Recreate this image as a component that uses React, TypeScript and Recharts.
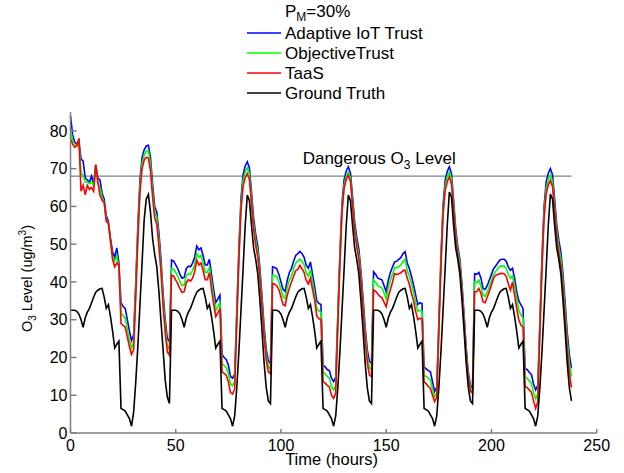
import React from 'react';
import { LineChart, Line, XAxis, YAxis, ReferenceLine, ReferenceDot, Legend } from 'recharts';

const truth = [
  32.5, 32.5, 32.5, 32.2, 31.5, 30, 28, 30.5, 32, 33, 34.5, 36, 37.3, 37.8, 38.2, 38.3, 36, 33, 34, 30.8, 27, 22.5, 23.5, 24.3,
  6.5, 6.2, 5.8, 4.8, 3.8, 1.8, 5.5, 13.5, 23, 34, 45, 56.5, 62, 63.2, 58.5, 51.5, 47.3, 44, 37.5, 29.5, 22, 14, 9.5, 7.8,
  32.5, 32.5, 32.5, 32.2, 31.5, 30, 28, 30.5, 32, 33, 34.5, 36, 37.3, 37.8, 38.2, 38.3, 36, 33, 34, 30.8, 27, 22.5, 23.5, 24.3,
  6.5, 6.2, 5.8, 4.8, 3.8, 1.8, 4.5, 12, 21.5, 32.5, 43.5, 55, 63, 61.5, 55, 49, 46, 42, 35, 27, 18.5, 12, 8.5, 7.8,
  32.5, 32.5, 32.5, 32.2, 31.5, 30, 28, 30.5, 32, 33, 34.5, 36, 37.3, 37.8, 38.2, 38.3, 36, 33, 34, 30.8, 27, 22.5, 23.5, 24.3,
  6.5, 6.2, 5.8, 4.8, 3.8, 1.8, 4.5, 12, 21.5, 32.5, 43.5, 55, 63, 61.5, 55, 49, 46, 42, 35, 27, 18.5, 12, 8.5, 7.8,
  32.5, 32.5, 32.5, 32.2, 31.5, 30, 28, 30.5, 32, 33, 34.5, 36, 37.3, 37.8, 38.2, 38.3, 36, 33, 34, 30.8, 27, 22.5, 23.5, 24.3,
  6.5, 6.2, 5.8, 4.8, 3.8, 1.8, 4.5, 12, 21.5, 32.5, 43.5, 55, 63.8, 62.5, 55, 49, 46, 42, 35, 27, 18.5, 12, 8.5, 7.8,
  32.5, 32.5, 32.5, 32.2, 31.5, 30, 28, 30.5, 32, 33, 34.5, 36, 37.3, 37.8, 38.2, 38.3, 36, 33, 34, 30.8, 27, 22.5, 23.5, 24.3,
  6.5, 6.2, 5.8, 4.8, 3.8, 1.8, 4.5, 12, 21.5, 32.5, 43.5, 55, 63.3, 62, 55, 49, 46, 42, 35, 27, 18.5, 12, 8.5,
];

const adaptive = [
  84, 79, 77, 76.5, 77.5, 72.5, 72, 67.5, 67, 66.5, 68, 66, 71, 67.5, 67, 63.5, 62, 57.5, 56, 51.5, 48, 46.5, 49, 45,
  34.5, 33.5, 33, 30, 27, 24.5,
  26, 40, 55, 67, 73, 75, 76, 76.2, 73, 66, 60, 58.5, 53, 46, 37, 30, 25, 24.2,
  45.8, 45.5, 44.5, 43.5, 42, 41, 41.2, 43.5, 44.2, 44, 45, 46.6, 49.5, 48.5, 49, 47, 44.5, 44.5, 46, 42, 38, 34.5, 35.5, 36.5,
  20.8, 20, 19.5, 18, 15, 14.5,
  15.6, 32.3, 48.9, 62.1, 68.4, 70.7, 71.8, 70.2, 63.8, 56.9, 52.6, 49.4, 43.6, 36.1, 28.1, 22.2, 19, 18.5,
  44, 43.8, 43.5, 42, 40, 38, 37.5, 40.5, 42.5, 43.6, 45.5, 47, 47.5, 48.1, 47.5, 46.5, 44.4, 43.6, 45.3, 42, 38.7, 35, 34.3, 34,
  18, 17.5, 16.8, 16.5, 14.5, 13.6,
  14.7, 31.2, 47.7, 60.8, 67.1, 69.4, 70.5, 68.9, 62.7, 55.9, 51.8, 48.7, 42.9, 35.7, 27.9, 22.1, 19, 18.5,
  42.7, 42, 41, 40.8, 40.5, 39, 37.4, 40.5, 42.5, 44, 45.3, 45.5, 46, 46.5, 47.5, 48, 45, 43.5, 41.5, 39.2, 36.5, 34, 34.5, 34.3,
  17.5, 17, 16.5, 16.2, 13.5, 11,
  12.1, 29.4, 46.7, 60.4, 66.9, 69.3, 70.5, 68.7, 61.7, 54.1, 49.4, 45.9, 39.5, 31.3, 22.5, 16.1, 12.6, 12,
  42.2, 42, 42.5, 41, 38.3, 38, 39, 40.5, 42, 43.5, 44.2, 45, 45.8, 46, 46, 45.5, 44, 43.1, 43.6, 41, 37.4, 35, 33.9, 33,
  17.1, 16.8, 16, 15.5, 13, 11.4,
  12.6, 29.6, 46.6, 60, 66.5, 68.8, 70, 68.4, 62.1, 55.2, 51, 47.8, 42, 34.6, 26.6, 20.8, 17.1,
];

const objective = [
  80.5, 77.5, 76.5, 76, 77.5, 69, 68, 66.5, 66.5, 66, 66.5, 65.5, 71, 66, 65, 62.5, 61, 56.5, 55.5, 50.5, 46.5, 45.5, 47, 43.5,
  31.8, 31, 30.5, 27.5, 24.7, 22.5,
  24, 38.3, 53.2, 65.4, 71.5, 73.6, 74.6, 74.8, 71.3, 64.3, 58.5, 57, 51.3, 44.3, 35.3, 28.3, 23, 22.3,
  43.6, 43.4, 42.5, 41.5, 40, 39, 39.2, 41.6, 42.2, 42, 43, 44.6, 47.5, 46.5, 47, 45, 42.5, 42.5, 44, 40, 36, 32.5, 33.5, 34.5,
  18.4, 17.8, 17.3, 15.8, 12.9, 12.5,
  13.6, 30.5, 47.3, 60.5, 66.8, 69.1, 70.2, 68.6, 62.3, 55.4, 51.1, 47.9, 42.1, 34.6, 26.6, 20.7, 17.5, 17,
  41.8, 41.7, 41.4, 40, 38, 36, 35.6, 38.5, 40.5, 41.6, 43.5, 45, 45.5, 46, 45.5, 44.5, 42.4, 41.5, 43.2, 40, 36.6, 33, 32.3, 32,
  16.2, 15.6, 15, 14.6, 12.3, 11.4,
  12.6, 29.6, 46.2, 59.4, 65.7, 68, 69.1, 67.5, 61.3, 54.5, 50.3, 47.2, 41.3, 34.1, 26.3, 20.4, 17.3, 16.8,
  40.5, 39.9, 39, 38.7, 38.4, 37, 35.5, 38.5, 40.5, 42, 43.8, 43.8, 44, 44.5, 45.4, 46, 43, 41.5, 39.5, 37.2, 34.5, 32.2, 32.5, 32.3,
  15.3, 15, 14.5, 14, 11.6, 9.6,
  10.6, 28, 45.3, 59, 65.5, 67.9, 69.1, 67.3, 60.4, 52.8, 48.2, 44.8, 38.4, 30.3, 21.5, 15.2, 11.8, 11.2,
  40, 39.8, 40.5, 39, 36.5, 36.2, 37.3, 38.8, 40.3, 42, 42.8, 43.5, 44.2, 44.2, 44.2, 43.6, 42, 41, 41.6, 39, 35.6, 32.5, 31.2, 30.5,
  14.9, 14.5, 13.8, 13.2, 10.7, 9,
  10.4, 27.9, 44.9, 58.3, 64.8, 67.1, 68.3, 66.7, 60.4, 53.5, 49.2, 46, 40.1, 32.6, 24.5, 18.6, 14.9,
];

const taas = [
  78, 76.5, 75.7, 76, 78, 64, 65.6, 63.1, 65.6, 64.5, 65, 64, 71, 66.5, 63, 61.6, 61, 56, 55.5, 51, 46, 44, 45, 44.4,
  29, 28.5, 28, 25.5, 22.8, 20.8,
  22, 36, 51, 63.8, 70, 72.3, 73, 72.8, 69.5, 62.5, 57, 55.3, 49.5, 42.5, 33.5, 26.5, 21.5, 20.6,
  41.8, 41.6, 40.5, 39.5, 38.2, 37.2, 37.4, 39.8, 40.6, 40.2, 41, 42.7, 45.8, 44.5, 45, 43.1, 40.6, 40.6, 42.5, 38, 34.2, 30.8, 31.8, 33,
  16.2, 15.8, 15.3, 13.6, 10.7, 10.3,
  11.6, 28.8, 45.8, 59, 65.3, 67.6, 68.7, 67.1, 60.8, 53.9, 49.7, 46.5, 40.7, 33.2, 25.2, 19.3, 16.2, 15.7,
  39.6, 39.4, 39, 38, 36, 34, 33.7, 36.5, 38.4, 40, 41.5, 43, 43.3, 44.4, 43.5, 42.5, 40.4, 39.5, 41, 38, 35.2, 31, 30.3, 30,
  13.6, 13.2, 12.6, 12.2, 10, 9.2,
  10.5, 28, 44.9, 58.4, 64.8, 67.1, 68.3, 66.6, 60.3, 53.4, 49.2, 46, 40, 32.6, 24.6, 18.6, 15.4, 14.9,
  37.9, 37.5, 36.8, 36.2, 35.8, 34.6, 33.4, 36, 38, 40, 42.2, 42, 42.2, 42.4, 43, 43.1, 41, 39.4, 37, 35, 32.2, 30, 30.4, 30.2,
  13.6, 13, 12.4, 11.8, 10, 8.3,
  9.4, 26.7, 44, 57.7, 64.2, 66.6, 67.8, 66, 59.1, 51.6, 47, 43.6, 37.3, 29.3, 20.6, 14.4, 11.1, 10.5,
  37.4, 37.4, 38.3, 37, 34.7, 34.5, 36, 37.5, 39.2, 41, 41.8, 42, 42.2, 42.3, 42.2, 41.5, 39.5, 37.8, 40, 36.5, 33, 30, 28.6, 28,
  12.3, 12, 11.4, 10.8, 8.5, 6.5,
  8.2, 26.3, 43.4, 56.8, 63.3, 65.7, 66.9, 65.3, 58.9, 51.9, 47.5, 44.1, 38, 30.3, 22, 16, 12,
];

const xTicks = [0, 50, 100, 150, 200, 250];
const yTicks = [0, 10, 20, 30, 40, 50, 60, 70, 80];
const dangerLevel = 68;
const dangerEnd = 238;
const dangerLabelPos = { x: 110.3, y: 71.35 };
const seriesNames = ['Adaptive IoT Trust', 'ObjectiveTrust', 'TaaS', 'Ground Truth'];
const seriesColors = ['#0000FF', '#00FF00', '#FF0000', '#000000'];
const legendTitle = { main: 'P', sub: 'M', rest: '=30%' };

const data = truth.map((v, i) => ({
  t: i,
  adaptive: adaptive[i],
  objective: objective[i],
  taas: taas[i],
  truth: v,
}));

const FONT = '"Liberation Sans", Arial, Helvetica, sans-serif';
const AXIS = '#7f7f7f';

const renderLegend = (props: any) => {
  const payload = [...(props.payload || [])].sort(
    (a: any, b: any) => seriesNames.indexOf(String(a.value)) - seriesNames.indexOf(String(b.value))
  );
  return (
    <svg width={624} height={100} style={{ display: 'block', overflow: 'visible' }}>
      {payload.map((p: any, i: number) => (
        <g key={String(p.value)}>
          <line x1={247} x2={281} y1={33 + i * 20} y2={33 + i * 20} stroke={p.color} strokeWidth={1.6} />
          <text x={285} y={33 + i * 20} dominantBaseline="central" fontSize={17} fontFamily={FONT} fill="#000">
            {p.value}
          </text>
        </g>
      ))}
    </svg>
  );
};

const YLabel = (props: any) => {
  const vb = props.viewBox || { x: 0, y: 112, width: 70, height: 321 };
  const cx = 32;
  const cy = vb.y + vb.height / 2 + 6;
  return (
    <text
      x={cx}
      y={cy}
      transform={`rotate(-90 ${cx} ${cy})`}
      textAnchor="middle"
      fontSize={14.5}
      fontFamily={FONT}
      fill="#000"
    >
      O<tspan dy={4} fontSize={10}>3</tspan>
      <tspan dy={-4}> Level (ug/m</tspan>
      <tspan dy={-6} fontSize={10}>3</tspan>
      <tspan dy={6}>)</tspan>
    </text>
  );
};

const XLabel = (props: any) => {
  const vb = props.viewBox || { x: 70, y: 433, width: 526, height: 40 };
  return (
    <text x={vb.x + vb.width / 2 - 2} y={vb.y + 32} textAnchor="middle" fontSize={16.5} fontFamily={FONT} fill="#000">
      Time (hours)
    </text>
  );
};

const DangerLabel = (props: any) => {
  const vb = props.viewBox || { x: 0, y: 0, width: 0, height: 0 };
  const x = vb.x + vb.width / 2;
  const y = vb.y + vb.height / 2;
  return (
    <text x={x} y={y} fontSize={17} fontFamily={FONT} fill="#000">
      Dangerous O<tspan dy={5} fontSize={12}>3</tspan>
      <tspan dy={-5}> Level</tspan>
    </text>
  );
};

export default function App() {
  return (
    <div style={{ position: 'absolute', left: 0, top: 0, width: 624, height: 473, background: '#fff' }}>
      <LineChart
        width={624}
        height={473}
        data={data}
        margin={{ top: 112, right: 27.3, left: 0, bottom: 0 }}
        style={{ fontFamily: FONT }}
      >
        <XAxis
          dataKey="t"
          type="number"
          domain={[0, 250]}
          ticks={xTicks}
          height={40}
          stroke={AXIS}
          strokeWidth={1.5}
          tickSize={-4}
          tickMargin={11}
          tick={{ fill: '#000', fontSize: 16, fontFamily: FONT }}
          tickLine={{ stroke: AXIS }}
          label={<XLabel />}
        />
        <YAxis
          type="number"
          domain={[0, 85]}
          ticks={yTicks}
          width={70.5}
          stroke={AXIS}
          strokeWidth={1.5}
          tickSize={-6}
          tickMargin={9}
          tick={{ fill: '#000', fontSize: 16, fontFamily: FONT }}
          tickLine={{ stroke: AXIS }}
          label={<YLabel />}
        />
        <ReferenceLine
          segment={[{ x: 0, y: dangerLevel }, { x: dangerEnd, y: dangerLevel }]}
          stroke="#808080"
          strokeWidth={1.3}
        />
        <ReferenceDot
          x={dangerLabelPos.x}
          y={dangerLabelPos.y}
          r={1}
          fill="none"
          stroke="none"
          label={<DangerLabel />}
        />
        <Legend
          verticalAlign="middle"
          align="center"
          layout="horizontal"
          content={renderLegend}
          wrapperStyle={{ position: 'absolute', top: 0, left: 0, width: 624, height: 100, margin: 0, padding: 0 }}
        />
        <Line dataKey="adaptive" name={seriesNames[0]} stroke={seriesColors[0]} strokeWidth={1.6} dot={false} type="linear" isAnimationActive={false} />
        <Line dataKey="objective" name={seriesNames[1]} stroke={seriesColors[1]} strokeWidth={1.6} dot={false} type="linear" isAnimationActive={false} />
        <Line dataKey="taas" name={seriesNames[2]} stroke={seriesColors[2]} strokeWidth={1.6} dot={false} type="linear" isAnimationActive={false} />
        <Line dataKey="truth" name={seriesNames[3]} stroke={seriesColors[3]} strokeWidth={1.6} dot={false} type="linear" isAnimationActive={false} />
      </LineChart>
      <div
        style={{
          position: 'absolute',
          left: 285,
          top: 3,
          fontFamily: FONT,
          fontSize: 17,
          lineHeight: '17px',
          whiteSpace: 'nowrap',
          color: '#000',
        }}
      >
        {legendTitle.main}
        <span style={{ fontSize: 12, position: 'relative', top: 4 }}>{legendTitle.sub}</span>
        {legendTitle.rest}
      </div>
    </div>
  );
}
